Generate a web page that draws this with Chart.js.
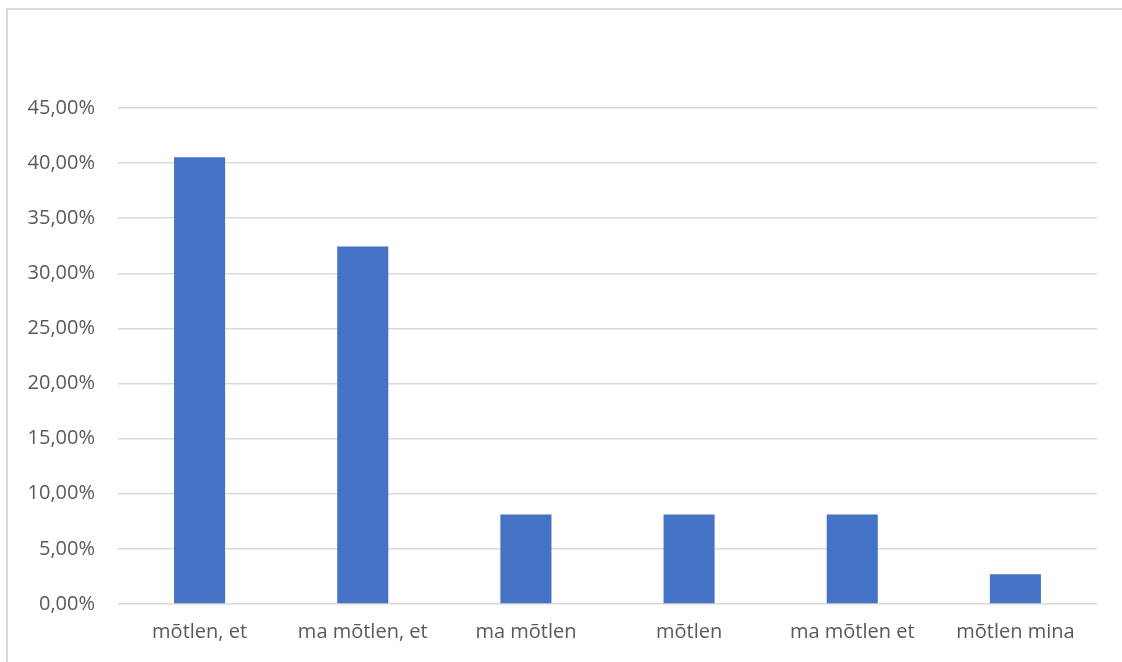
<!DOCTYPE html>
<html>
<head>
<meta charset="utf-8">
<script src="https://cdn.jsdelivr.net/npm/chart.js@4/dist/chart.umd.min.js"></script>
<style>
html,body{margin:0;padding:0;background:#fff;overflow:hidden;width:1122px;height:662px;}
#wrap{position:absolute;left:0;top:0;width:1122px;height:662px;overflow:hidden;}
#frame{position:absolute;left:6px;top:8px;width:1130px;height:670px;border-top:2px solid #D9D9D9;border-left:2px solid #D9D9D9;box-sizing:border-box;}
canvas{position:absolute;left:0;top:0;}
</style>
</head>
<body>
<div id="wrap">
<div id="frame"></div>
<canvas id="c" width="1122" height="662"></canvas>
</div>
<script>
const categories = ["mõtlen, et", "ma mõtlen, et", "ma mõtlen", "mõtlen", "ma mõtlen et", "mõtlen mina"];
const shares = [40.54, 32.43, 8.11, 8.11, 8.11, 2.70];
const yTicks = [0, 5, 10, 15, 20, 25, 30, 35, 40, 45];

const fmt = v => v.toFixed(2).replace('.', ',') + '%';

new Chart(document.getElementById('c'), {
  type: 'bar',
  data: {
    labels: categories,
    datasets: [{
      data: shares,
      backgroundColor: '#4472C4',
      borderWidth: 0,
      barPercentage: 0.313,
      categoryPercentage: 1.0
    }]
  },
  options: {
    responsive: false,
    animation: false,
    layout: { padding: { top: 108, right: 25, left: 0, bottom: 0 } },
    plugins: { legend: { display: false }, tooltip: { enabled: false } },
    scales: {
      y: {
        min: 0, max: 45,
        afterFit: s => { s.width = 118; },
        afterBuildTicks: s => { s.ticks = yTicks.map(v => ({ value: v })); },
        ticks: {
          padding: 23,
          color: '#595959',
          font: { family: 'Open Sans', size: 20 },
          callback: v => fmt(v)
        },
        grid: { color: '#D9D9D9', lineWidth: 1.5, drawTicks: false },
        border: { display: false }
      },
      x: {
        afterFit: s => { s.height = 58; },
        ticks: {
          padding: 16,
          color: '#595959',
          font: { family: 'Open Sans', size: 20 },
          maxRotation: 0
        },
        grid: { display: false, drawTicks: false },
        border: { display: false }
      }
    }
  }
});
</script>
</body>
</html>
